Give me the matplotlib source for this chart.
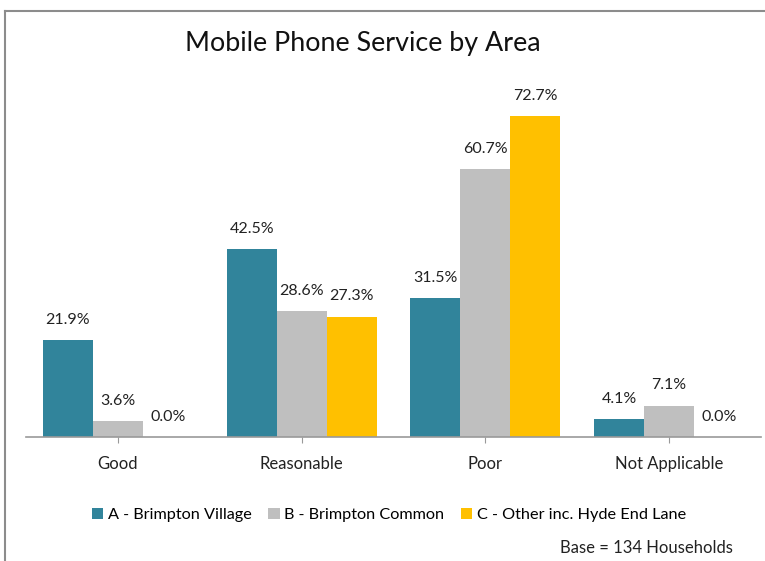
import matplotlib
matplotlib.use("Agg")
import matplotlib.pyplot as plt
import numpy as np
from matplotlib.lines import Line2D

categories = ["Good", "Reasonable", "Poor", "Not Applicable"]
series_names = ["A - Brimpton Village", "B - Brimpton Common", "C - Other inc. Hyde End Lane"]
area_a = [21.9, 42.5, 31.5, 4.1]
area_b = [3.6, 28.6, 60.7, 7.1]
area_c = [0.0, 27.3, 72.7, 0.0]
colors = ["#31849B", "#BFBFBF", "#FFC000"]

plt.rcParams['font.family'] = ['Lato', 'DejaVu Sans']

fig = plt.figure(figsize=(7.65, 5.61), dpi=100)
ax = fig.add_axes([26 / 765, 1 - 437 / 561, 735 / 765, (437 - 84) / 561])

x = np.arange(len(categories))
width = 0.272
for i, (vals, name, col) in enumerate(zip([area_a, area_b, area_c], series_names, colors)):
    pos = x + (i - 1) * width
    ax.bar(pos, vals, width, color=col, label=name)
    for xp, v in zip(pos, vals):
        ax.text(xp, v + 3.0, f"{v:.1f}%", ha="center", va="bottom", fontsize=11.5, color="#222222")

ax.set_xlim(-0.5, len(categories) - 0.5)
ax.set_ylim(0, 80)
ax.set_xticks(x)
ax.set_xticklabels(categories, fontsize=12, color="#222222")
ax.tick_params(axis="x", length=4, color="#999999", pad=10)
ax.set_yticks([])
for s in ["top", "right", "left"]:
    ax.spines[s].set_visible(False)
ax.spines["bottom"].set_color("#999999")
ax.spines["bottom"].set_linewidth(1.2)

fig.text(363 / 765, 1 - 43 / 561, "Mobile Phone Service by Area", ha="center", va="center",
         fontsize=19.4, color="#111111")

fig.legend(loc="center", bbox_to_anchor=(389 / 765, 1 - 515 / 561), ncol=3, frameon=False,
           fontsize=11.7, handlelength=0.7, handleheight=0.7, handletextpad=0.3,
           columnspacing=1.0)

fig.text(733 / 765, 1 - 548 / 561, "Base = 134 Households", ha="right", va="center",
         fontsize=12, color="#222222")

# outer frame (left and top edges only)
fig.add_artist(Line2D([5 / 765, 5 / 765], [0, 1 - 11 / 561], transform=fig.transFigure,
                      color="#8c8c8c", lw=1.5))
fig.add_artist(Line2D([5 / 765, 1], [1 - 11 / 561, 1 - 11 / 561], transform=fig.transFigure,
                      color="#8c8c8c", lw=1.5))

fig.savefig("out.png", dpi=100)
